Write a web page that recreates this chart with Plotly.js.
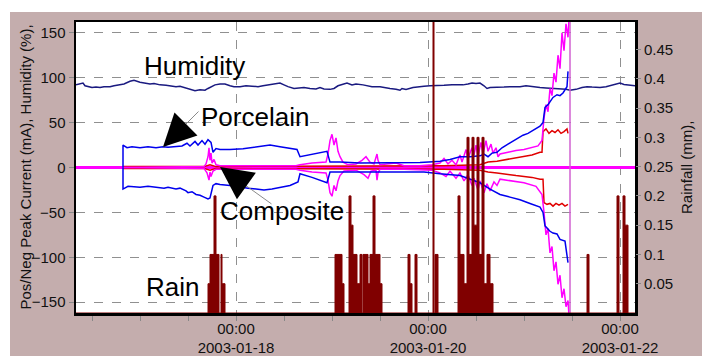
<!DOCTYPE html>
<html><head><meta charset="utf-8">
<script src="https://cdn.plot.ly/plotly-3.0.1.min.js"></script>
<style>html,body{margin:0;padding:0;background:#fff}#chart{width:702px;height:356px}</style>
</head><body><div id="chart"></div>
<script>
// time in hours since 2003-01-16 00:00
const humT = [8,9,9.75,10.25,11,12,13,14,15,16.5,17.5,19,20,21.5,22.5,24,25,26.5,27.5,29,30.5,31.5,33,34,35.25,36.5,37.75,39,40.25,41,42,42.75,44,45.25,46.5,47.5,49,50.5,52,53.5,54.75,56,57.5,59,60,61,62.5,63.5,64,65,66.5,68,69,70,71.5,72.5,73.5,74.5,75.75,77,78,79.75,81,82,84,85,86.5,88,89,89.5,90.5,92.25,93.5,95,96.5,98,100,102,104.75,106,107,108,109,110,110.75,111.5,113,114,115,116.5,118,119,120.5,122,123,124,125.5,127,128.5,129,130.5,131.5,133,134.5,135.75,137,138,139,140.5,142,143,144,145,146,147.75];
const humV = [92,93,94,91,90,89,89.5,89,90,90,91,92,93,96,97,95,94,93,93.5,92,91.5,91,90,90.5,89,87,85.5,86.5,86,88,90,92,93,93,91,90,90,91,90.5,90,91,92,93,94,92,90,88,88.5,88,89,88,87.5,89,87.5,87,88,91,92.5,94,92,93,92,91,90,90,89,88,87,86,88,87,89,90,90.5,91,91,91.5,92,92,93,94,93.5,94,91,88,89,89,89,89.5,90,90,90,91,90,89,89,88.5,88,88,87,87,86,87,89,90,89.5,89,89,90,91.5,93,94,92.5,92,91];

const porPosT = [19.75,19.75,20.75,22,24,26,28,29.75,31,33.25,34.5,35.75,36.5,37.75,38.5,39.5,40.25,41,41.75,42.25,43,44,46.5,49.75,52.75,55.25,56.5,59,61.5,63.25,64,66,68,70.75,71.5,74,79,84,89,94,97.25,99,101.5,104,106.5,109,110,111,112,113.25,114.5,116.5,118,119.75,121,122.5,124,124.75,125.25,126,126.5,127.25,128.25,129,129.75,130.5,130.75,131];
const porPosV = [0,25,22,23,22,23,22,23,22.5,23,24,27,24,29,25,30,26,31,28,17,21,20,20,21,23,24,25,23,21,20,12,14,16,18,6,6,5,5,5.5,5.5,6.5,7,9,12,12,13,15,12,16,17,22,27,31,36,38,42,46,50,67,70,73,78,81,80,83,88,90,107];

const porNegT = [19.75,19.75,21,24,26,28,30,31,33,34,35.5,36,37,38,39,40,41,41.5,42.25,43,44,46.5,49,51,53,55,57,59,61.5,63.5,64,67,70.75,71.5,75,80,85,90,95,97.25,99,104,109,111.5,114,116.5,119,121.5,124,124.75,125.25,126.5,127.25,128.25,129,130.25,131];
const porNegV = [0,-24,-21,-22,-21,-22,-23,-22,-24,-23,-26,-28,-27,-30,-31,-33,-35,-34,-20,-18,-19,-20,-22,-23,-24,-25,-24,-22,-20,-16,-7,-11,-17,-5,-5,-4.5,-4.5,-5,-5,-6,-7,-9,-17,-24,-30,-33,-36,-40,-44,-50,-65,-71,-73,-74,-80,-82,-106];

const compPosT = [19.75,40,40.5,41,41.25,41.5,41.75,42,42.5,43,44,63,64,67,70.5,71,71.5,72,72.5,73,73.5,74,74.75,76,78,79.5,80.5,81.5,82.5,83,83.25,83.5,84,88,90,94,97,99,100,101,102,103,104,104.5,105.5,106,107,107.5,108,108.5,109.25,109.75,110.5,111,111.75,112.25,113,113.5,114,116,118,120,122,123.5,124.5,125,125.5,126,126.5,127,127.5,128,128.5,129,129.5,130,130.5,131,131.25];
const compPosV = [0,1,4,12,22,8,16,5,9,3,2,2,3,5,6,15,30,37,25,33,18,12,6,3,4,8,12,6,4,12,15,8,3,5,2,2,3,5,10,4,8,3,14,6,20,10,22,14,25,12,28,15,30,18,26,16,22,12,15,17,19,20,22,24,30,55,70,62,88,80,105,95,125,110,150,130,160,145,165];

const compNegT = [19.75,40,40.75,41.25,41.5,41.75,42.25,43,63,64,67,70.5,71,71.5,72,72.5,73,73.5,74,75,78,80,81,81.75,83,83.25,83.5,84,90,97,99,100.5,101.5,103,104,105,106,107,107.5,108.5,109,110,110.75,111.5,112.5,113.25,114,117,120,123,124.5,125,125.5,126,126.5,127,127.5,128,128.5,129,129.5,130,130.5,131,131.25];
const compNegV = [0,-1,-6,-14,-5,-10,-4,-2,-2,-3,-5,-6,-14,-28,-32,-20,-26,-15,-9,-4,-3,-8,-12,-4,-3,-14,-6,-2,-2,-3,-6,-10,-4,-12,-6,-15,-8,-20,-12,-25,-15,-28,-18,-26,-16,-20,-13,-15,-17,-21,-30,-50,-75,-68,-95,-88,-115,-105,-130,-120,-145,-135,-155,-148,-165];

const redPosT = [19.75,40,41.5,43,60,100,109,111,113.25,116,118,120,122,124,124.5,124.75,125.5,126.25,127,127.75,128.5,129.25,130,130.75,131];
const redPosV = [1,1,3,1,1.5,2,3,6,7,9,11,12,14,17,17,40,43,38,41,39,42,38,40,43,38];
const redNegT = [19.75,40,41.5,43,60,100,109,111,113.25,116,118,120,122,124,124.75,125,125.75,126.5,127.25,128,128.75,129.5,130.25,131];
const redNegV = [-1,-1,-3,-1,-1.5,-2,-3,-5,-6,-8,-9,-10,-11,-13,-13,-39,-41,-40,-43,-40,-42,-40,-43,-41];

const dropT = [131.5,131.5];
const dropV = [165,-165];
const zeroT = [8,147.75];
const zeroV = [0,0];

const rainT = [8,41,41.5,42.5,43,43.75,44.25,44.5,45.25,72.75,74.5,75,76.25,76.75,77.25,78.25,79,79.5,79.75,81,81.5,82.25,82.75,84,84.5,91,91.5,92,92.75,93.25,97.25,97.5,97.75,98.5,103.5,104,105,105.75,106.25,107,107.5,108.25,108.75,109.5,110,110.75,111.5,112.25,135.75,136.25,143.25,143.75,144.75,145.25,146,147.75];
const rainV = [0,0.05,0.1,0.2,0.1,0,0.1,0.05,0,0.1,0.05,0,0.2,0.15,0.1,0.05,0.1,0,0.1,0.05,0.1,0.2,0.1,0.05,0,0.1,0.05,0,0.1,0,0.55,0,0.1,0,0.2,0.1,0.05,0.3,0.1,0.3,0.15,0.3,0.1,0.3,0.05,0.1,0.05,0,0.1,0,0.2,0,0.2,0.15,0,0];

const xTickHours = [48,96,144];
const xTickText = ['00:00<br>2003-01-18','00:00<br>2003-01-20','00:00<br>2003-01-22'];
const y2Ticks = [0.05,0.1,0.15,0.2,0.25,0.3,0.35,0.4,0.45];

const BASE = Date.UTC(2003,0,16);
const d = h => BASE + h*3600000;
const ds = arr => arr.map(d);

const L=76,R=635,T=22,B=313;
const px = p => (p-L)/(R-L);
const py = p => (B-p)/(B-T);

const FONT = 'Arial, "Liberation Sans", sans-serif';
const line = (x,y,color,w,name,extra) => Object.assign({x:ds(x),y:y,type:'scatter',mode:'lines',name:name,line:{color:color,width:w},hoverinfo:'skip'},extra||{});

const traces = [
  line(zeroT,zeroV,'#ff00ff',3,'zero'),
  line(humT,humV,'#1a1a80',1.5,'Humidity'),
  line(redPosT,redPosV,'#e00000',1.5,'red+'),
  line(redNegT,redNegV,'#e00000',1.5,'red-'),
  line(compPosT,compPosV,'#ff00ff',1.5,'Composite+'),
  line(compNegT,compNegV,'#ff00ff',1.5,'Composite-'),
  line(dropT,dropV,'#d060d0',1.5,'drop'),
  line(porPosT,porPosV,'#0000ee',1.5,'Porcelain+'),
  line(porNegT,porNegV,'#0000ee',1.5,'Porcelain-'),
  line(rainT,rainV,'#800000',1,'Rain',{yaxis:'y2',line:{color:'#800000',width:1,shape:'hv'},fill:'tozeroy',fillcolor:'#800000'})
];

const tickFont = {family:FONT,size:15,color:'#111'};
const ann = [
  {text:'Humidity',x:px(194),y:py(66)},
  {text:'Porcelain',x:px(255),y:py(117)},
  {text:'Composite',x:px(282),y:py(211)},
  {text:'Rain',x:px(172),y:py(287)}
].map(a=>Object.assign({xref:'paper',yref:'paper',showarrow:false,xanchor:'center',yanchor:'middle',font:{family:FONT,size:26,color:'#000'}},a));

ann.push({text:'Pos/Neg Peak Current (mA), Humidity (%),',xref:'paper',yref:'paper',x:px(25),y:py(167.5),showarrow:false,textangle:-90,xanchor:'center',yanchor:'middle',font:{family:FONT,size:15,color:'#111'}});
ann.push({text:'Rainfall (mm),',xref:'paper',yref:'paper',x:px(686),y:py(168),showarrow:false,textangle:-90,xanchor:'center',yanchor:'middle',font:{family:FONT,size:15,color:'#111'}});

// arrows: grey shaft + black head
const arrows = [
  {tip:[163,147],tail:[200,110]},
  {tip:[220,167],tail:[273,205]}
];
arrows.forEach(a=>{
  const dx=a.tail[0]-a.tip[0], dy=a.tail[1]-a.tip[1], len=Math.hypot(dx,dy);
  ann.push({text:'',xref:'paper',yref:'paper',x:px(a.tip[0]),y:py(a.tip[1]),ax:dx,ay:dy,showarrow:true,arrowhead:0,arrowwidth:1,arrowcolor:'#8a8a8a'});
  ann.push({text:'',xref:'paper',yref:'paper',x:px(a.tip[0]),y:py(a.tip[1]),ax:dx/len*34,ay:dy/len*34,showarrow:true,arrowhead:2,arrowsize:6.5,arrowwidth:1,arrowcolor:'#000'});
});

const layout = {
  width:702,height:356,autosize:false,
  margin:{l:L,r:702-R,t:T,b:356-B,pad:0},
  paper_bgcolor:'#c4adad',plot_bgcolor:'#ffffff',
  showlegend:false,
  font:{family:FONT,size:15,color:'#111'},
  xaxis:{type:'date',range:[d(8),d(147.75)],tickmode:'array',tickvals:ds(xTickHours),ticktext:xTickText,
    ticks:'outside',ticklen:5,tickcolor:'#888',tickfont:tickFont,ticklabelstandoff:-5,
    showgrid:true,gridcolor:'#909090',griddash:'dash',gridwidth:1,
    showline:true,linecolor:'#000',linewidth:2.5,mirror:true,zeroline:false,
    minor:{dtick:43200000,tick0:d(0),ticks:'outside',ticklen:5,tickcolor:'#888',showgrid:false}},
  yaxis:{range:[-162,162],tickvals:[-150,-100,-50,0,50,100,150],ticks:'outside',ticklen:5,tickcolor:'#888',tickfont:tickFont,
    showgrid:true,gridcolor:'#909090',griddash:'dash',gridwidth:1,zeroline:false,
    showline:true,linecolor:'#000',linewidth:2.5,mirror:true},
  yaxis2:{overlaying:'y',side:'right',range:[0,0.497],tickvals:y2Ticks,ticks:'outside',ticklen:5,tickcolor:'#888',tickfont:tickFont,
    showgrid:false,zeroline:false,showline:false},
  annotations:ann,
  shapes:[
    {type:'rect',xref:'paper',yref:'paper',x0:px(-5),x1:px(710),y0:py(12),y1:py(-5),fillcolor:'#ffffff',line:{width:0},layer:'above'},
    {type:'rect',xref:'paper',yref:'paper',x0:px(-5),x1:px(10),y0:py(360),y1:py(-5),fillcolor:'#ffffff',line:{width:0},layer:'above'}
  ]
};

Plotly.newPlot('chart',traces,layout,{staticPlot:true,displayModeBar:false});
</script></body></html>
